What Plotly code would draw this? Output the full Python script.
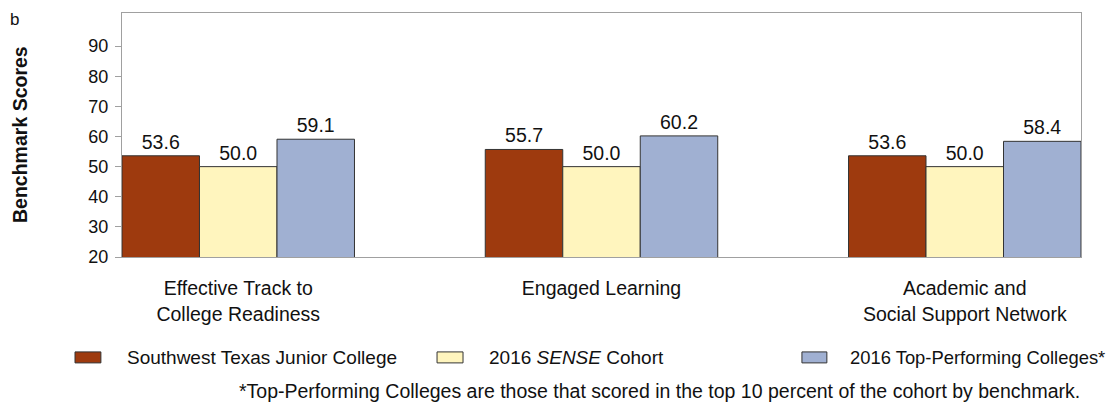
import plotly.graph_objects as go

categories = ["Effective Track to<br>College Readiness", "Engaged Learning", "Academic and<br>Social Support Network"]
series_names = ["Southwest Texas Junior College", "2016 <i>SENSE</i> Cohort", "2016 Top-Performing Colleges*"]
college = [53.6, 55.7, 53.6]
cohort = [50.0, 50.0, 50.0]
top_perf = [59.1, 60.2, 58.4]
y_ticks = [20, 30, 40, 50, 60, 70, 80, 90]
colors = ["#9E3A0E", "#FFF5BE", "#A0B0D2"]
footnote = "*Top-Performing Colleges are those that scored in the top 10 percent of the cohort by benchmark."

FONT = "Liberation Sans, Arial, sans-serif"
FS = 19.5

fig = go.Figure()
for name, vals, col in zip(series_names, [college, cohort, top_perf], colors):
    fig.add_trace(go.Bar(
        x=categories, y=vals, name=name,
        marker=dict(color=col, line=dict(color="#333333", width=1)),
        text=[f"{v:.1f}" for v in vals], textposition="outside",
        textfont=dict(size=FS, color="#111111", family=FONT),
        cliponaxis=False, showlegend=False,
    ))

# manual legend
legend_boxes = [(-0.049, -0.022), (0.3285, 0.3556), (0.709, 0.735)]
legend_text_x = [0.0031, 0.3806, 0.757]
legend_sizes = [19, 19, 18.4]
for (x0, x1), tx, name, col, fs in zip(legend_boxes, legend_text_x, series_names, colors, legend_sizes):
    fig.add_shape(type="rect", xref="paper", yref="paper", x0=x0, x1=x1, y0=-0.434, y1=-0.389,
                  fillcolor=col, line=dict(color="#333333", width=1))
    fig.add_annotation(xref="paper", yref="paper", x=tx, y=-0.411, text=name, showarrow=False,
                       xanchor="left", yanchor="middle", font=dict(size=fs, color="#111111", family=FONT))

fig.add_annotation(xref="paper", yref="paper", x=1.001, y=-0.548, text=footnote, showarrow=False,
                   xanchor="right", yanchor="middle", font=dict(size=FS, color="#111111", family=FONT))
fig.add_annotation(xref="paper", yref="paper", x=-0.1064, y=0.504, text="<b>Benchmark Scores</b>",
                   textangle=-90, showarrow=False, xanchor="center", yanchor="middle",
                   font=dict(size=FS, color="#111111", family=FONT))
fig.add_annotation(xref="paper", yref="paper", x=-0.1185, y=1.02, text="b", showarrow=False,
                   xanchor="left", yanchor="top", font=dict(size=17, color="#111111", family=FONT))

# page body adds 8px offset; compensate with size/margins
fig.update_layout(
    width=1111, height=394,
    margin=dict(l=114, r=38, t=5, b=145),
    paper_bgcolor="white", plot_bgcolor="white",
    barmode="group", bargap=0.36, bargroupgap=0,
    font=dict(family=FONT, color="#111111"),
    showlegend=False,
)
fig.update_xaxes(type="category", range=[-0.32, 2.32], showline=True, linecolor="#A0A0A0", linewidth=1,
                 mirror=True, ticks="", showgrid=False, tickfont=dict(size=FS, family=FONT, color="#111111"),
                 ticklabelstandoff=14)
fig.update_yaxes(range=[20, 101], tickvals=y_ticks, showline=True, linecolor="#A0A0A0", linewidth=1,
                 mirror=True, ticks="outside", ticklen=6, tickcolor="#A0A0A0", showgrid=False,
                 zeroline=False, tickfont=dict(size=18, family=FONT, color="#111111"), ticklabelstandoff=3)

fig.write_html("out.html")
